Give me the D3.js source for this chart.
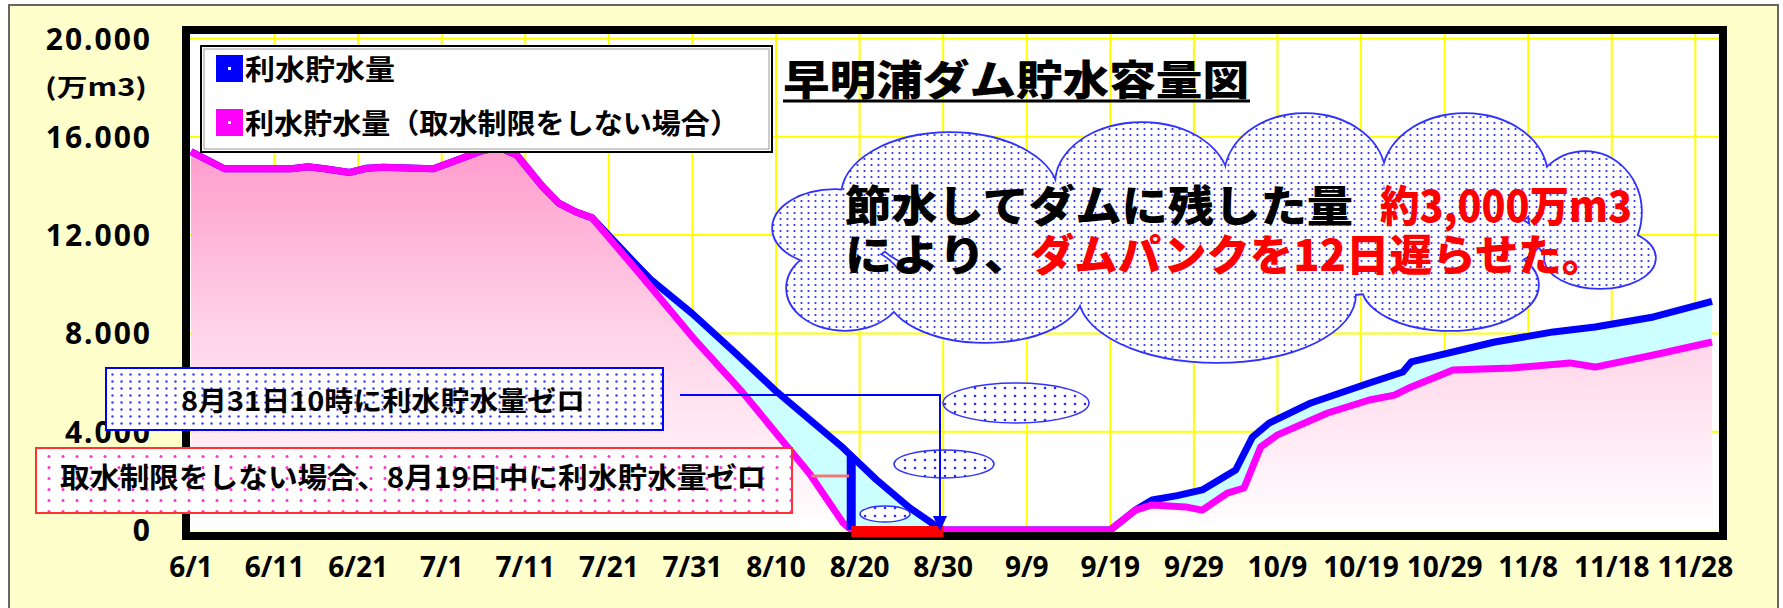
<!DOCTYPE html>
<html>
<head>
<meta charset="utf-8">
<script src="https://cdn.jsdelivr.net/npm/d3@7"></script>
<style>
  body { margin: 0; background: #fff; }
  svg { display: block; }
</style>
</head>
<body>
<svg id="chart" width="1783" height="608"></svg>
<script>
// ---------- data ----------
const xTickLabels = ["6/1", "6/11", "6/21", "7/1", "7/11", "7/21", "7/31", "8/10", "8/20", "8/30",
  "9/9", "9/19", "9/29", "10/9", "10/19", "10/29", "11/8", "11/18", "11/28"];
const yTickValues = [0, 4000, 8000, 12000, 16000, 20000];
const yTickLabels = ["0", "4.000", "8.000", "12.000", "16.000", "20.000"];

// 利水貯水量 (actual)
const actualDates = ["6/1", "6/5", "6/13", "6/15", "6/17", "6/20", "6/22", "6/24", "6/30", "7/6", "7/8", "7/10",
  "7/13", "7/15", "7/17", "7/19", "7/24", "7/26", "7/31", "8/5", "8/10", "8/14", "8/18", "8/22", "8/26", "8/29",
  "8/30", "9/19", "9/22", "9/24", "9/27", "9/30", "10/4", "10/6", "10/8", "10/13", "10/20", "10/24", "10/25",
  "11/4", "11/11", "11/16", "11/23", "11/30"];
const actualValues = [15400, 14700, 14700, 14780, 14700, 14550, 14720, 14760, 14700, 15450, 15550, 15250,
  14000, 13300, 12950, 12700, 10900, 10200, 8800, 7250, 5650, 4500, 3350, 2050, 900, 200,
  0, 0, 810, 1220, 1400, 1630, 2440, 3780, 4350, 5170, 5980, 6430, 6840,
  7650, 8060, 8260, 8670, 9300];

// 利水貯水量（取水制限をしない場合）
const noLimitDates = ["6/1", "6/5", "6/13", "6/15", "6/17", "6/20", "6/22", "6/24", "6/30", "7/6", "7/8", "7/10",
  "7/13", "7/15", "7/17", "7/19", "7/25", "7/31", "8/6", "8/10", "8/14", "8/18", "8/19", "9/19", "9/22", "9/24",
  "9/28", "9/30", "10/3", "10/5", "10/7", "10/9", "10/15", "10/20", "10/23", "10/25", "10/30", "11/6", "11/13",
  "11/16", "11/23", "11/30"];
const noLimitValues = [15400, 14700, 14700, 14780, 14700, 14550, 14720, 14760, 14700, 15450, 15550, 15250,
  14000, 13300, 12950, 12700, 10300, 7850, 5600, 3950, 2300, 300, 0, 0, 810, 1020,
  940, 810, 1500, 1710, 3380, 3870, 4760, 5290, 5490, 5820, 6510, 6590, 6800,
  6630, 7120, 7650];

const parseDay = s => { const [m, d] = s.split("/").map(Number); return new Date(2005, m - 1, d); };
const actual = actualDates.map((d, i) => ({ date: parseDay(d), v: actualValues[i] }));
const noLimit = noLimitDates.map((d, i) => ({ date: parseDay(d), v: noLimitValues[i] }));

const JP = "'Noto Sans CJK JP', sans-serif";
const NUM = "'Liberation Sans Narrow', 'Noto Sans', sans-serif";

const svg = d3.select("#chart");
const plotL = 190, plotR = 1719, plotT = 34, plotB = 530;

const x = d3.scaleTime().domain([new Date(2005, 5, 1), new Date(2005, 10, 30, 20)]).range([191, plotR]);
const y = d3.scaleLinear().domain([0, 20000]).range([plotB, 38.5]);

// ---------- defs ----------
const defs = svg.append("defs");
const grad = defs.append("linearGradient").attr("id", "pinkGrad")
  .attr("gradientUnits", "userSpaceOnUse").attr("x1", 0).attr("y1", 140).attr("x2", 0).attr("y2", plotB);
grad.append("stop").attr("offset", 0).attr("stop-color", "#ff99cc");
grad.append("stop").attr("offset", 0.5).attr("stop-color", "#ffd4e8");
grad.append("stop").attr("offset", 1).attr("stop-color", "#ffffff");

function dotPattern(id, w, h, r, color) {
  const p = defs.append("pattern").attr("id", id).attr("patternUnits", "userSpaceOnUse")
    .attr("width", w).attr("height", h);
  p.append("rect").attr("width", w).attr("height", h).attr("fill", "#fff");
  p.append("circle").attr("cx", w / 2).attr("cy", h / 2).attr("r", r).attr("fill", color);
}
dotPattern("cloudDots", 7, 6, 1.1, "#2b2bff");
dotPattern("boxDots", 9, 7, 1.2, "#3a3aff");
dotPattern("bubbleDots", 10, 8, 1.3, "#2b2bff");
dotPattern("pinkDots", 14, 11, 1.5, "#ff33cc");

defs.append("clipPath").attr("id", "plotClip")
  .append("rect").attr("x", plotL).attr("y", plotT).attr("width", plotR - plotL).attr("height", plotB - plotT + 4);

// ---------- background ----------
svg.append("rect").attr("x", 9).attr("y", 5).attr("width", 1769).attr("height", 610)
  .attr("fill", "#ffffcc").attr("stroke", "#666").attr("stroke-width", 2);
svg.append("rect").attr("x", plotL).attr("y", plotT).attr("width", plotR - plotL).attr("height", plotB - plotT)
  .attr("fill", "#fff");

// ---------- grid ----------
const grid = svg.append("g").attr("stroke", "#ffff00").attr("stroke-width", 2);
grid.selectAll(".h").data(yTickValues.slice(1)).enter().append("line")
  .attr("x1", plotL).attr("x2", plotR).attr("y1", d => y(d)).attr("y2", d => y(d));
grid.selectAll(".v").data(xTickLabels.slice(1)).enter().append("line")
  .attr("x1", d => x(parseDay(d))).attr("x2", d => x(parseDay(d))).attr("y1", plotT).attr("y2", plotB);

// ---------- areas and lines ----------
const plot = svg.append("g").attr("clip-path", "url(#plotClip)");
const area = d3.area().x(d => x(d.date)).y0(y(0)).y1(d => y(d.v));
const line = d3.line().x(d => x(d.date)).y(d => y(d.v));

plot.append("path").datum(actual).attr("d", area).attr("fill", "#ccffff");
plot.append("path").datum(noLimit).attr("d", area).attr("fill", "url(#pinkGrad)");
plot.append("path").datum(actual).attr("d", line).attr("fill", "none")
  .attr("stroke", "#0000ff").attr("stroke-width", 7).attr("stroke-linejoin", "round");
plot.append("path").datum(noLimit).attr("d", line).attr("fill", "none")
  .attr("stroke", "#ff00ff").attr("stroke-width", 7).attr("stroke-linejoin", "round");

// frame
svg.append("rect").attr("x", 186).attr("y", 30).attr("width", 1537).attr("height", 506)
  .attr("fill", "none").attr("stroke", "#000").attr("stroke-width", 8);

// 8/19 marker and delay bar
svg.append("rect").attr("x", x(parseDay("8/19")) - 4.5).attr("y", 456).attr("width", 9)
  .attr("height", plotB - 456).attr("fill", "#0000ff");
svg.append("rect").attr("x", x(parseDay("8/19"))).attr("y", 526)
  .attr("width", x(parseDay("8/30")) - x(parseDay("8/19"))).attr("height", 11).attr("fill", "#ff0000");

// ---------- axes labels ----------
svg.append("g").selectAll("text").data(yTickValues).enter().append("text")
  .attr("x", 152).attr("y", d => y(d) + 11).attr("text-anchor", "end")
  .attr("font-family", NUM).attr("font-weight", "bold").attr("font-size", 30)
  .attr("letter-spacing", 2).attr("fill", "#000")
  .text((d, i) => yTickLabels[i]);
svg.append("text").attr("x", 45).attr("y", 96).attr("font-family", JP).attr("font-weight", "bold")
  .attr("font-size", 24).attr("textLength", 102).attr("lengthAdjust", "spacingAndGlyphs").text("(万m3)");

svg.append("g").selectAll("text").data(xTickLabels).enter().append("text")
  .attr("x", d => x(parseDay(d))).attr("y", 577).attr("text-anchor", "middle")
  .attr("font-family", NUM).attr("font-weight", "bold").attr("font-size", 28).attr("fill", "#000")
  .text(d => d);

// ---------- legend ----------
const legend = svg.append("g");
legend.append("rect").attr("x", 201).attr("y", 46).attr("width", 571).attr("height", 106)
  .attr("fill", "#fff").attr("stroke", "#000").attr("stroke-width", 2);
legend.append("rect").attr("x", 204).attr("y", 49).attr("width", 565).attr("height", 100)
  .attr("fill", "none").attr("stroke", "#999").attr("stroke-width", 1);
const legendItems = [
  { label: "利水貯水量", color: "#0000ff", cy: 68, len: 150 },
  { label: "利水貯水量（取水制限をしない場合）", color: "#ff00ff", cy: 122, len: 494 }
];
legendItems.forEach(it => {
  legend.append("rect").attr("x", 216).attr("y", it.cy - 13).attr("width", 27).attr("height", 27).attr("fill", it.color);
  legend.append("rect").attr("x", 228).attr("y", it.cy - 1).attr("width", 3).attr("height", 3).attr("fill", "#fff");
  legend.append("text").attr("x", 245).attr("y", it.cy + 12).attr("font-family", JP).attr("font-weight", "bold")
    .attr("font-size", 28).attr("textLength", it.len).attr("lengthAdjust", "spacingAndGlyphs").text(it.label);
});

// ---------- title ----------
svg.append("text").attr("x", 783).attr("y", 95).attr("font-family", JP).attr("font-weight", 900)
  .attr("font-size", 41).attr("textLength", 466).attr("lengthAdjust", "spacingAndGlyphs").text("早明浦ダム貯水容量図");
svg.append("line").attr("x1", 783).attr("x2", 1250).attr("y1", 101).attr("y2", 101)
  .attr("stroke", "#000").attr("stroke-width", 3);

// ---------- cloud ----------
const cloudParts = [
  [950, 195, 108, 62], [1142, 183, 86, 60], [1305, 176, 80, 62], [1465, 176, 82, 62],
  [1585, 212, 56, 60], [1600, 258, 55, 30], [1450, 285, 88, 45], [1217, 295, 138, 67],
  [985, 292, 98, 50], [845, 288, 58, 42], [835, 228, 62, 38], [1210, 240, 330, 60]
];
const cloud = svg.append("g");
cloud.selectAll(".edge").data(cloudParts).enter().append("ellipse")
  .attr("cx", d => d[0]).attr("cy", d => d[1]).attr("rx", d => d[2]).attr("ry", d => d[3])
  .attr("fill", "none").attr("stroke", "#3030ff").attr("stroke-width", 3.5);
cloud.selectAll(".fill").data(cloudParts).enter().append("ellipse")
  .attr("cx", d => d[0]).attr("cy", d => d[1]).attr("rx", d => d[2]).attr("ry", d => d[3])
  .attr("fill", "url(#cloudDots)");

const cloudTexts = [
  { text: "節水してダムに残した量", x: 845, y: 222, len: 508, color: "#000" },
  { text: "約3,000万m3", x: 1380, y: 222, len: 252, color: "#ff0000" },
  { text: "により、", x: 845, y: 271, len: 186, color: "#000" },
  { text: "ダムパンクを12日遅らせた。", x: 1031, y: 271, len: 574, color: "#ff0000" }
];
svg.append("g").selectAll("text").data(cloudTexts).enter().append("text")
  .attr("x", d => d.x).attr("y", d => d.y).attr("fill", d => d.color)
  .attr("font-family", JP).attr("font-weight", 900).attr("font-size", 43)
  .attr("textLength", d => d.len).attr("lengthAdjust", "spacingAndGlyphs")
  .text(d => d.text);

// thought bubbles
const bubbles = [[1016, 403, 73, 20], [944, 464, 50, 14], [885, 514, 25, 8]];
svg.append("g").selectAll("ellipse").data(bubbles).enter().append("ellipse")
  .attr("cx", d => d[0]).attr("cy", d => d[1]).attr("rx", d => d[2]).attr("ry", d => d[3])
  .attr("fill", "url(#bubbleDots)").attr("stroke", "#3030ff").attr("stroke-width", 1.5);

// ---------- annotations ----------
svg.append("path").attr("d", "M680,395H940V520").attr("fill", "none")
  .attr("stroke", "#0000ff").attr("stroke-width", 2);
svg.append("path").attr("d", "M933,516L947,516L940,531Z").attr("fill", "#0000ff");
svg.append("line").attr("x1", 811).attr("x2", 849).attr("y1", 476).attr("y2", 476)
  .attr("stroke", "#f07878").attr("stroke-width", 3);

svg.append("rect").attr("x", 106).attr("y", 368).attr("width", 557).attr("height", 62)
  .attr("fill", "url(#boxDots)").attr("stroke", "#0000ff").attr("stroke-width", 2);
svg.append("text").attr("x", 181).attr("y", 411).attr("font-family", JP).attr("font-weight", "bold")
  .attr("font-size", 27).attr("textLength", 404).attr("lengthAdjust", "spacingAndGlyphs")
  .text("8月31日10時に利水貯水量ゼロ");

svg.append("rect").attr("x", 36).attr("y", 448).attr("width", 756).attr("height", 65)
  .attr("fill", "url(#pinkDots)").attr("stroke", "#ff3333").attr("stroke-width", 2);
svg.append("text").attr("x", 60).attr("y", 488).attr("font-family", JP).attr("font-weight", "bold")
  .attr("font-size", 28).attr("textLength", 706).attr("lengthAdjust", "spacingAndGlyphs")
  .text("取水制限をしない場合、8月19日中に利水貯水量ゼロ");
</script>
</body>
</html>
